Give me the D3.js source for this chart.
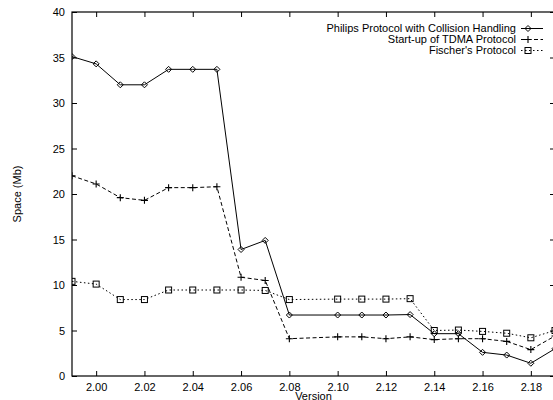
<!DOCTYPE html>
<html>
<head>
<meta charset="utf-8">
<script src="https://cdn.jsdelivr.net/npm/d3@7"></script>
<style>
  html, body { margin: 0; padding: 0; background: #fff; }
  svg { display: block; font-family: "Liberation Sans", Arial, sans-serif; }
</style>
</head>
<body>
<svg id="chart" width="553" height="400"></svg>
<script>
// ---- data ----
const versions = [1.99, 2.00, 2.01, 2.02, 2.03, 2.04, 2.05, 2.06, 2.07, 2.08, 2.10, 2.11, 2.12, 2.13, 2.14, 2.15, 2.16, 2.17, 2.18, 2.19];
const philips  = [35.1, 34.3, 32.0, 32.0, 33.7, 33.7, 33.7, 13.9, 14.9, 6.7, 6.7, 6.7, 6.7, 6.75, 4.65, 4.65, 2.6, 2.3, 1.4, 3.0];
const tdma     = [22.0, 21.1, 19.6, 19.3, 20.7, 20.7, 20.8, 10.85, 10.5, 4.1, 4.3, 4.3, 4.1, 4.3, 4.0, 4.1, 4.1, 3.8, 2.9, 4.4];
const fischer  = [10.4, 10.1, 8.4, 8.4, 9.45, 9.45, 9.45, 9.45, 9.4, 8.4, 8.45, 8.45, 8.45, 8.5, 5.0, 5.05, 4.9, 4.7, 4.2, 5.0];
const seriesNames = ["Philips Protocol with Collision Handling", "Start-up of TDMA Protocol", "Fischer's Protocol"];
const xTicks = [2.00, 2.02, 2.04, 2.06, 2.08, 2.10, 2.12, 2.14, 2.16, 2.18];
const yTicks = [0, 5, 10, 15, 20, 25, 30, 35, 40];
const xLabel = "Version";
const yLabel = "Space (Mb)";

// ---- layout ----
const svg = d3.select("#chart");
const mLeft = 72, mRight = 555, mTop = 12, mBottom = 376;
const x = d3.scaleLinear().domain([1.99, 2.19]).range([mLeft, mRight]);
const y = d3.scaleLinear().domain([0, 40]).range([mBottom, mTop]);

const series = [
  { name: seriesNames[0], values: philips, dash: null, marker: "diamond" },
  { name: seriesNames[1], values: tdma, dash: "4,2.5", marker: "plus" },
  { name: seriesNames[2], values: fischer, dash: "1.5,2.5", marker: "square" }
];

svg.append("defs").append("clipPath").attr("id", "clip")
  .append("rect").attr("x", mLeft).attr("y", mTop).attr("width", mRight - mLeft).attr("height", mBottom - mTop);

// axes (inward ticks)
const gx = svg.append("g").attr("transform", `translate(0,${mBottom})`)
  .call(d3.axisBottom(x).tickValues(xTicks).tickSize(-5).tickPadding(7).tickFormat(d3.format(".2f")));
const gxt = svg.append("g").attr("transform", `translate(0,${mTop})`)
  .call(d3.axisTop(x).tickValues(xTicks).tickSize(-5).tickFormat(""));
const gy = svg.append("g").attr("transform", `translate(${mLeft},0)`)
  .call(d3.axisLeft(y).tickValues(yTicks).tickSize(-5).tickPadding(7));
const gyr = svg.append("g").attr("transform", `translate(${mRight},0)`)
  .call(d3.axisRight(y).tickValues(yTicks).tickSize(-5).tickFormat(""));
[gx, gxt, gy, gyr].forEach(g => {
  g.select(".domain").remove();
  g.selectAll("line").attr("stroke", "#000").attr("stroke-width", 1);
  g.selectAll("text").attr("font-size", 11).attr("fill", "#000")
    .attr("font-family", '"Liberation Sans", Arial, sans-serif');
});

// frame
svg.append("rect").attr("x", mLeft).attr("y", mTop).attr("width", mRight - mLeft).attr("height", mBottom - mTop)
  .attr("fill", "none").attr("stroke", "#000").attr("stroke-width", 1.2);

// axis titles
svg.append("text").attr("x", (mLeft + mRight) / 2).attr("y", 399.5).attr("text-anchor", "middle")
  .attr("font-size", 11).text(xLabel);
svg.append("text").attr("transform", `translate(21,${(mTop + mBottom) / 2}) rotate(-90)`)
  .attr("text-anchor", "middle").attr("font-size", 11).text(yLabel);

// markers
function drawMarker(g, type, cx, cy) {
  if (type === "diamond") {
    g.append("path").attr("d", `M${cx},${cy - 3}L${cx + 3},${cy}L${cx},${cy + 3}L${cx - 3},${cy}Z`)
      .attr("fill", "none").attr("stroke", "#000").attr("stroke-width", 1);
  } else if (type === "plus") {
    g.append("path").attr("d", `M${cx - 3.5},${cy}H${cx + 3.5}M${cx},${cy - 3.5}V${cy + 3.5}`)
      .attr("stroke", "#000").attr("stroke-width", 1.1);
  } else {
    g.append("rect").attr("x", cx - 3).attr("y", cy - 3).attr("width", 6).attr("height", 6)
      .attr("fill", "none").attr("stroke", "#000").attr("stroke-width", 1);
  }
}

const plot = svg.append("g").attr("clip-path", "url(#clip)");
const line = d3.line().x(d => x(d[0])).y(d => y(d[1]));
series.forEach(s => {
  const pts = versions.map((v, i) => [v, s.values[i]]);
  plot.append("path").datum(pts).attr("d", line)
    .attr("fill", "none").attr("stroke", "#000").attr("stroke-width", 1)
    .attr("stroke-dasharray", s.dash);
  const mg = plot.append("g");
  pts.forEach(p => drawMarker(mg, s.marker, x(p[0]), y(p[1])));
});

// legend
const legRowY = [28.5, 39.5, 50.5];
series.forEach((s, i) => {
  const ly = legRowY[i];
  svg.append("text").attr("x", 516).attr("y", ly).attr("dy", "0.36em")
    .attr("text-anchor", "end").attr("font-size", 11).text(s.name);
  svg.append("line").attr("x1", 521).attr("x2", 543).attr("y1", ly).attr("y2", ly)
    .attr("stroke", "#000").attr("stroke-width", 1).attr("stroke-dasharray", s.dash);
  drawMarker(svg.append("g"), s.marker, 528, ly);
});
</script>
</body>
</html>
